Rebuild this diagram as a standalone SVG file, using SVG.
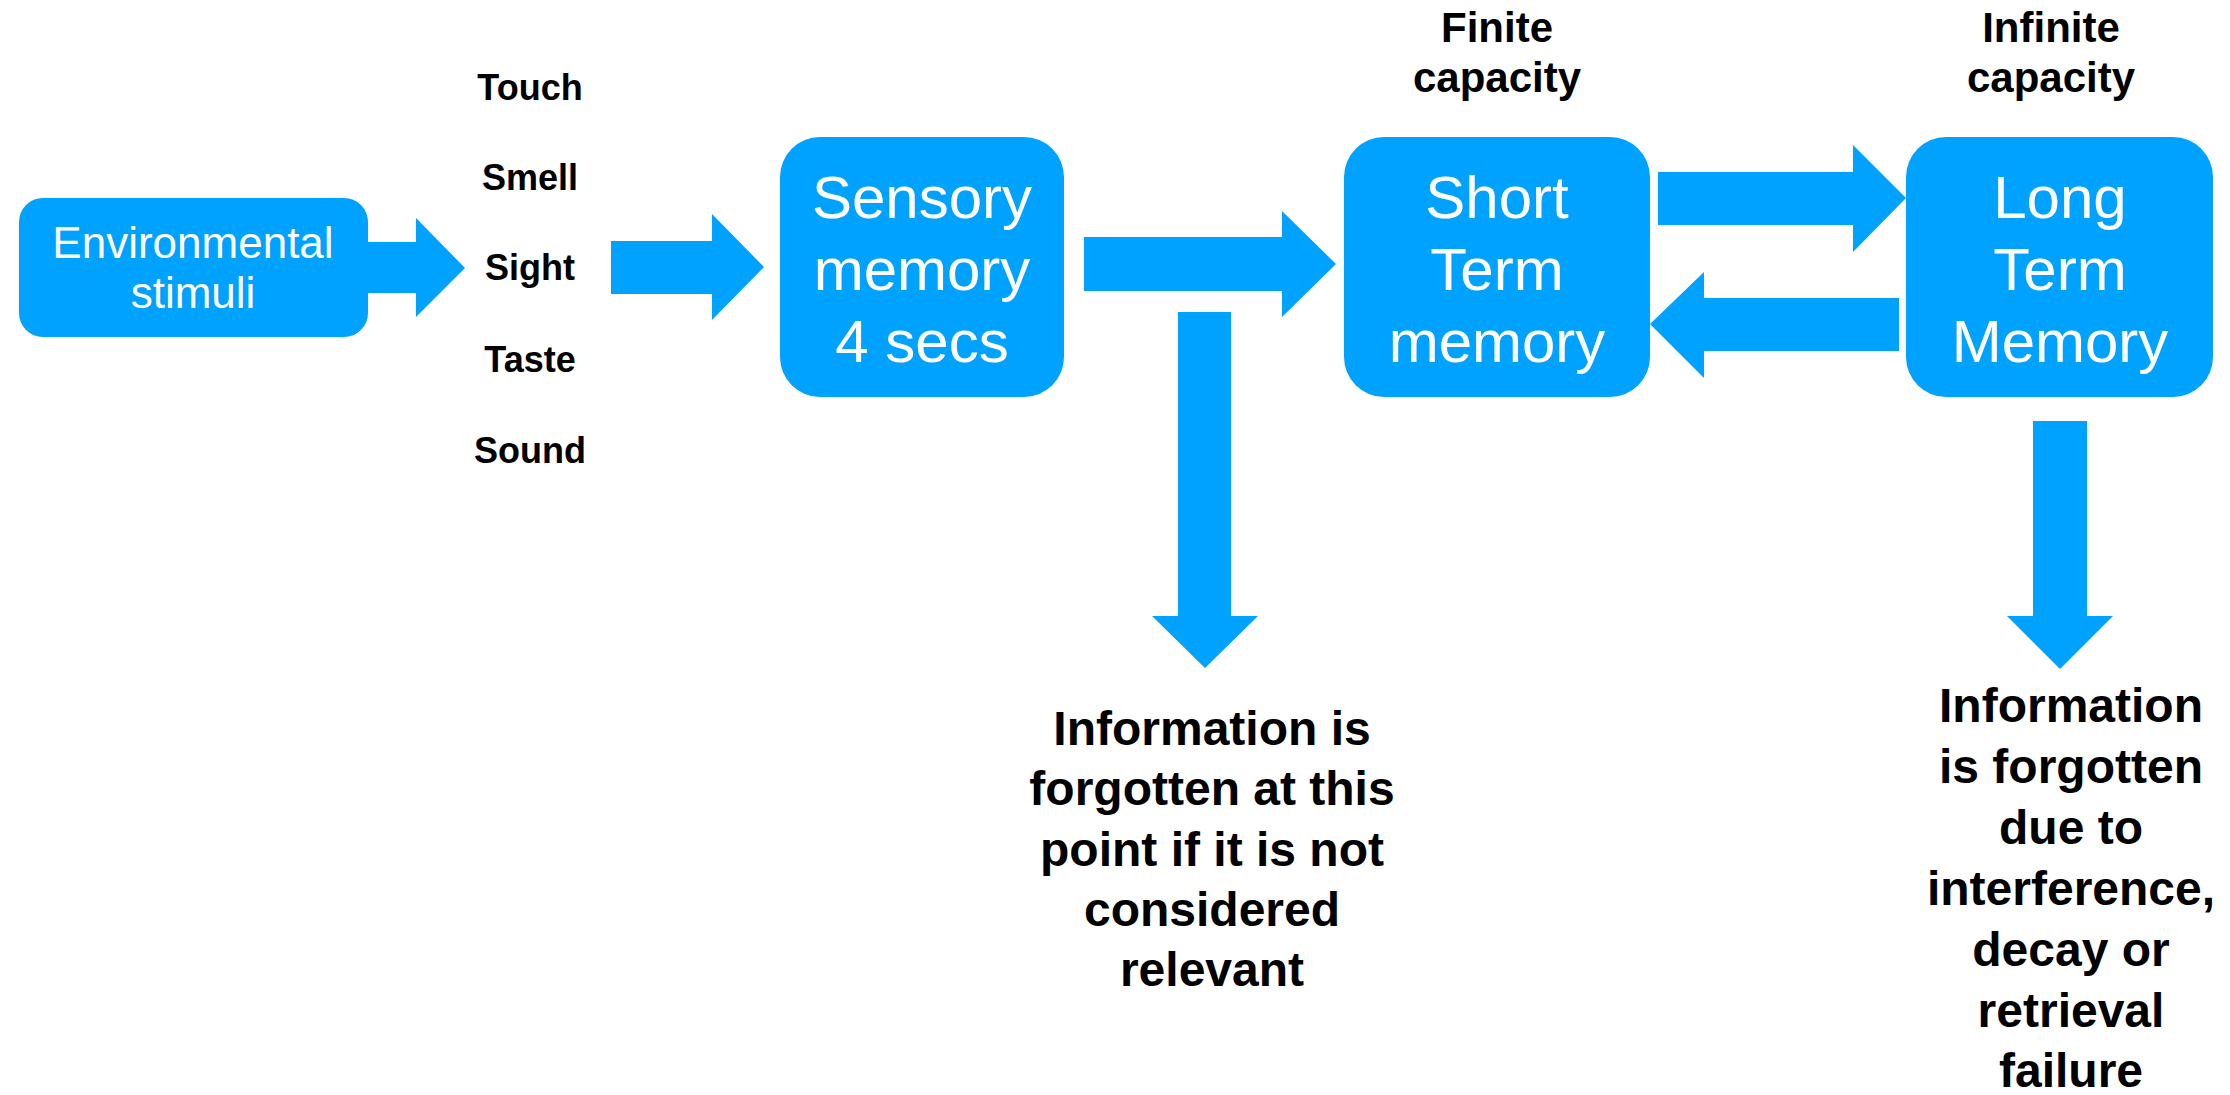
<svg xmlns="http://www.w3.org/2000/svg" width="2230" height="1095" viewBox="0 0 2230 1095">
  <style>
    .box { fill: #00A2FF; }
    .arrow { fill: #00A2FF; }
    .wt { fill: #FFFFFF; font-family: "Liberation Sans", Arial, sans-serif; text-anchor: middle; }
    .bt { fill: #000000; font-family: "Liberation Sans", Arial, sans-serif; font-weight: bold; text-anchor: middle; }
  </style>
  <rect width="2230" height="1095" fill="#FFFFFF"/>

  <!-- connectors: block arrows -->
  <g id="connectors">
    <polygon class="arrow" points="368,242 416,242 416,218 465,268 416,317 416,293 368,293"/>
    <polygon class="arrow" points="611,241 712,241 712,214 764,267 712,320 712,294 611,294"/>
    <polygon class="arrow" points="1084,237 1282,237 1282,211 1336,264 1282,317 1282,291 1084,291"/>
    <polygon class="arrow" points="1658,172 1853,172 1853,145 1906,198 1853,252 1853,225 1658,225"/>
    <polygon class="arrow" points="1899,298 1704,298 1704,272 1650,324 1704,378 1704,351 1899,351"/>
    <polygon class="arrow" points="1178,312 1231,312 1231,616 1258,616 1205,668 1152,616 1178,616"/>
    <polygon class="arrow" points="2033,421 2087,421 2087,616 2113,616 2060,669 2007,616 2033,616"/>
  </g>

  <g id="environmental-stimuli">
    <rect class="box" x="19" y="198" width="349" height="139" rx="24"/>
    <text class="wt" font-size="44" x="193" y="258">Environmental</text>
    <text class="wt" font-size="44" x="193" y="308">stimuli</text>
  </g>

  <g id="senses">
    <text class="bt" font-size="36" x="530" y="100">Touch</text>
    <text class="bt" font-size="36" x="530" y="190">Smell</text>
    <text class="bt" font-size="36" x="530" y="280">Sight</text>
    <text class="bt" font-size="36" x="530" y="372">Taste</text>
    <text class="bt" font-size="36" x="530" y="463">Sound</text>
  </g>

  <g id="sensory-memory">
    <rect class="box" x="780" y="137" width="284" height="260" rx="40"/>
    <text class="wt" font-size="60" x="922" y="218">Sensory</text>
    <text class="wt" font-size="60" x="922" y="290">memory</text>
    <text class="wt" font-size="60" x="922" y="362">4 secs</text>
  </g>

  <g id="short-term-memory">
    <text class="bt" font-size="42" x="1497" y="42">Finite</text>
    <text class="bt" font-size="42" x="1497" y="92">capacity</text>
    <rect class="box" x="1344" y="137" width="306" height="260" rx="40"/>
    <text class="wt" font-size="60" x="1497" y="218">Short</text>
    <text class="wt" font-size="60" x="1497" y="290">Term</text>
    <text class="wt" font-size="60" x="1497" y="362">memory</text>
  </g>

  <g id="long-term-memory">
    <text class="bt" font-size="42" x="2051" y="42">Infinite</text>
    <text class="bt" font-size="42" x="2051" y="92">capacity</text>
    <rect class="box" x="1906" y="137" width="307" height="260" rx="40"/>
    <text class="wt" font-size="60" x="2060" y="218">Long</text>
    <text class="wt" font-size="60" x="2060" y="290">Term</text>
    <text class="wt" font-size="60" x="2060" y="362">Memory</text>
  </g>

  <g id="sensory-forgetting">
    <text class="bt" font-size="48" x="1212" y="745">Information is</text>
    <text class="bt" font-size="48" x="1212" y="805">forgotten at this</text>
    <text class="bt" font-size="48" x="1212" y="866">point if it is not</text>
    <text class="bt" font-size="48" x="1212" y="926">considered</text>
    <text class="bt" font-size="48" x="1212" y="986">relevant</text>
  </g>

  <g id="long-term-forgetting">
    <text class="bt" font-size="48" x="2071" y="722">Information</text>
    <text class="bt" font-size="48" x="2071" y="783">is forgotten</text>
    <text class="bt" font-size="48" x="2071" y="844">due to</text>
    <text class="bt" font-size="48" x="2071" y="905">interference,</text>
    <text class="bt" font-size="48" x="2071" y="966">decay or</text>
    <text class="bt" font-size="48" x="2071" y="1027">retrieval</text>
    <text class="bt" font-size="48" x="2071" y="1087">failure</text>
  </g>
</svg>
